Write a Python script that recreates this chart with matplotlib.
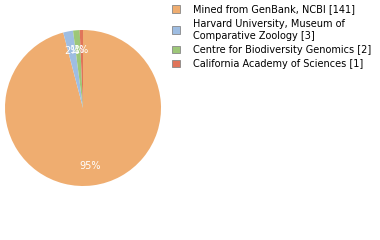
import matplotlib.pyplot as plt
from matplotlib.patches import Patch

labels = ['Mined from GenBank, NCBI [141]',
          'Harvard University, Museum of\nComparative Zoology [3]',
          'Centre for Biodiversity Genomics [2]',
          'California Academy of Sciences [1]']
counts = [141, 3, 2, 1]
colors = ['#efad70', '#9ebde2', '#9dc778', '#e0745a']


def pct_label(p):
    return '%d%%' % max(1, int(p))


fig = plt.figure(figsize=(3.8, 2.4), dpi=100)
ax = fig.add_axes([5 / 380, 54 / 240, 156 / 380, 156 / 240])
wedges, texts, autotexts = ax.pie(counts, colors=colors, startangle=90, counterclock=False,
                                  autopct=pct_label, pctdistance=0.75,
                                  textprops={'color': 'white', 'fontsize': 7})
ax.set_xlim(-1, 1)
ax.set_ylim(-1, 1)
ax.set_aspect('equal')

handles = [Patch(facecolor=c, edgecolor='#888888', linewidth=0.6) for c in colors]
leg = fig.legend(handles, labels, loc='upper left', bbox_to_anchor=(172 / 380, 1 - 4.5 / 240),
                 frameon=False, fontsize=7, handlelength=0.8, handleheight=0.8,
                 handletextpad=1.4, labelspacing=0.42, borderaxespad=0, borderpad=0)
for t in leg.get_texts():
    t.set_linespacing(1.25)

fig.savefig('out.png', dpi=100)
